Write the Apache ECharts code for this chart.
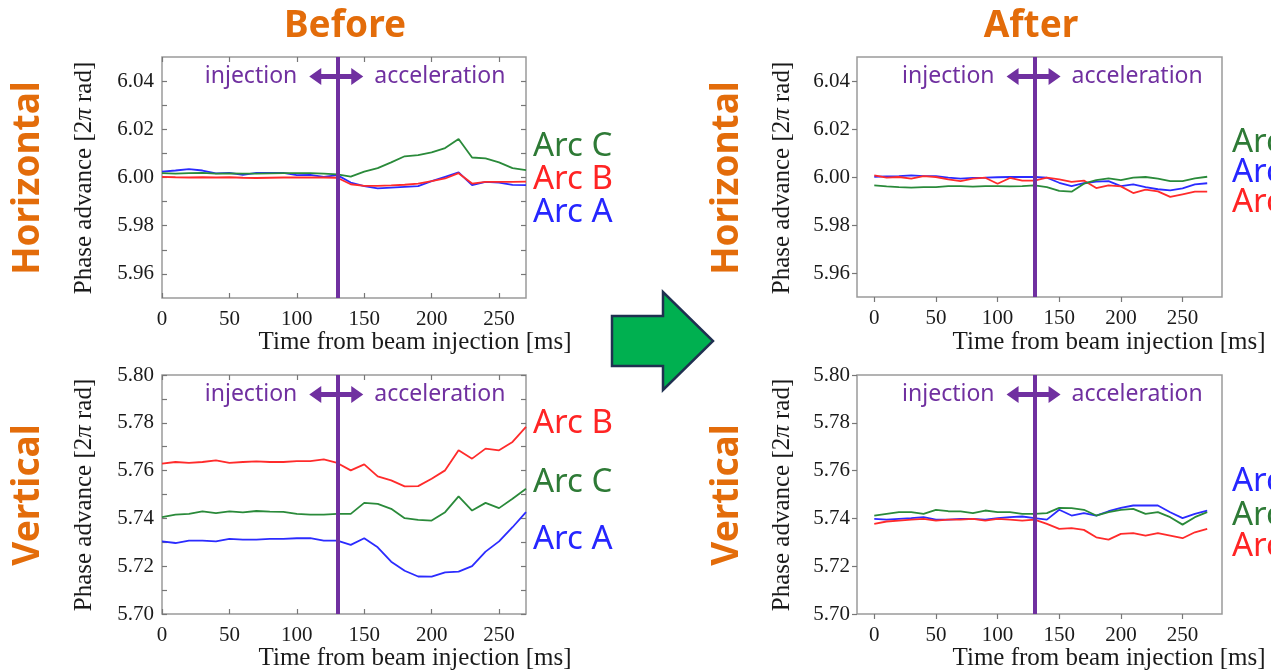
<!DOCTYPE html>
<html>
<head>
<meta charset="utf-8">
<script src="https://cdn.jsdelivr.net/npm/echarts@6/dist/echarts.min.js"></script>
<style>
  html, body { margin: 0; padding: 0; background: #ffffff; }
  #chart { width: 1271px; height: 671px; }
</style>
</head>
<body>
<div id="chart"></div>
<script>
// Sampling times of the phase advance measurement [ms]
const timeMs = [0, 10, 20, 30, 40, 50, 60, 70, 80, 90, 100, 110, 120, 130,
                140, 150, 160, 170, 180, 190, 200, 210, 220, 230, 240, 250, 260, 270];
const injectionEndMs = 130;

// Horizontal phase advance before correction [2π rad]
const hBeforeArcA = [6.0024, 6.0029, 6.0035, 6.0029, 6.0017, 6.0019, 6.0011, 6.0019, 6.0019, 6.0019,
                     6.0010, 6.0011, 6.0003, 6.0010, 5.9979, 5.9964, 5.9955, 5.9958, 5.9961, 5.9964,
                     5.9985, 6.0003, 6.0021, 5.9968, 5.9982, 5.9979, 5.9969, 5.9968];
const hBeforeArcB = [6.0003, 6.0001, 6.0000, 6.0001, 6.0000, 6.0001, 5.9999, 5.9998, 5.9999, 6.0000,
                     6.0000, 6.0000, 6.0000, 5.9999, 5.9972, 5.9965, 5.9965, 5.9967, 5.9970, 5.9975,
                     5.9985, 5.9996, 6.0018, 5.9975, 5.9982, 5.9982, 5.9982, 5.9983];
const hBeforeArcC = [6.0018, 6.0016, 6.0018, 6.0019, 6.0016, 6.0017, 6.0016, 6.0016, 6.0017, 6.0018,
                     6.0018, 6.0018, 6.0016, 6.0013, 6.0004, 6.0024, 6.0039, 6.0063, 6.0088, 6.0093,
                     6.0104, 6.0122, 6.0160, 6.0083, 6.0079, 6.0063, 6.0039, 6.0031];

// Vertical phase advance before correction [2π rad]
const vBeforeArcA = [5.7304, 5.7297, 5.7307, 5.7307, 5.7304, 5.7314, 5.7311, 5.7311, 5.7314, 5.7314,
                     5.7317, 5.7317, 5.7307, 5.7307, 5.7289, 5.7317, 5.7279, 5.7219, 5.7181, 5.7157,
                     5.7156, 5.7174, 5.7177, 5.7200, 5.7261, 5.7304, 5.7363, 5.7426];
const vBeforeArcB = [5.7629, 5.7636, 5.7632, 5.7636, 5.7643, 5.7632, 5.7636, 5.7639, 5.7636, 5.7636,
                     5.7640, 5.7640, 5.7647, 5.7632, 5.7601, 5.7626, 5.7576, 5.7559, 5.7534, 5.7535,
                     5.7566, 5.7601, 5.7685, 5.7650, 5.7692, 5.7685, 5.7720, 5.7783];
const vBeforeArcC = [5.7405, 5.7416, 5.7419, 5.7429, 5.7422, 5.7429, 5.7425, 5.7431, 5.7428, 5.7427,
                     5.7419, 5.7416, 5.7416, 5.7419, 5.7419, 5.7465, 5.7461, 5.7440, 5.7401, 5.7394,
                     5.7391, 5.7426, 5.7492, 5.7433, 5.7465, 5.7443, 5.7482, 5.7524];

// Horizontal phase advance after correction [2π rad]
const hAfterArcA = [6.0001, 6.0003, 6.0004, 6.0007, 6.0004, 6.0004, 5.9997, 5.9993, 5.9996, 5.9997,
                    5.9999, 6.0000, 6.0000, 6.0000, 5.9997, 5.9976, 5.9962, 5.9974, 5.9981, 5.9983,
                    5.9962, 5.9969, 5.9958, 5.9949, 5.9944, 5.9953, 5.9969, 5.9974];
const hAfterArcB = [6.0007, 5.9997, 6.0000, 5.9993, 6.0004, 6.0000, 5.9990, 5.9983, 5.9993, 5.9997,
                    5.9972, 5.9996, 5.9985, 5.9985, 5.9997, 5.9990, 5.9980, 5.9985, 5.9954, 5.9965,
                    5.9961, 5.9933, 5.9947, 5.9940, 5.9917, 5.9928, 5.9939, 5.9939];
const hAfterArcC = [5.9965, 5.9961, 5.9958, 5.9956, 5.9958, 5.9958, 5.9962, 5.9962, 5.9960, 5.9962,
                    5.9962, 5.9961, 5.9962, 5.9965, 5.9958, 5.9942, 5.9939, 5.9972, 5.9987, 5.9994,
                    5.9987, 5.9997, 6.0000, 5.9993, 5.9983, 5.9983, 5.9994, 6.0001];

// Vertical phase advance after correction [2π rad]
const vAfterArcA = [5.7398, 5.7395, 5.7398, 5.7401, 5.7405, 5.7395, 5.7395, 5.7398, 5.7398, 5.7395,
                    5.7401, 5.7405, 5.7408, 5.7401, 5.7395, 5.7436, 5.7412, 5.7422, 5.7412, 5.7430,
                    5.7444, 5.7454, 5.7454, 5.7454, 5.7426, 5.7401, 5.7419, 5.7433];
const vAfterArcB = [5.7377, 5.7387, 5.7391, 5.7395, 5.7398, 5.7391, 5.7395, 5.7395, 5.7398, 5.7391,
                    5.7398, 5.7395, 5.7391, 5.7395, 5.7377, 5.7356, 5.7359, 5.7352, 5.7321, 5.7311,
                    5.7335, 5.7338, 5.7328, 5.7338, 5.7328, 5.7317, 5.7342, 5.7356];
const vAfterArcC = [5.7412, 5.7419, 5.7426, 5.7426, 5.7419, 5.7436, 5.7430, 5.7429, 5.7422, 5.7433,
                    5.7426, 5.7426, 5.7419, 5.7419, 5.7422, 5.7444, 5.7443, 5.7436, 5.7412, 5.7426,
                    5.7436, 5.7440, 5.7419, 5.7426, 5.7405, 5.7374, 5.7405, 5.7426];

// Tick labels
const xTickLabels = [0, 50, 100, 150, 200, 250];
const yTickLabelsH = [5.96, 5.98, 6.00, 6.02, 6.04];
const yTickLabelsV = [5.70, 5.72, 5.74, 5.76, 5.78, 5.80];

// Texts
const arcNames = ['Arc A', 'Arc B', 'Arc C'];
const panelTitles = ['Before', 'After'];
const planeNames = ['Horizontal', 'Vertical'];
const xAxisTitle = 'Time from beam injection [ms]';
const yAxisTitle = 'Phase advance [2{i|π} rad]';
const phaseWords = ['injection', 'acceleration'];

// Styling
const arcColors = { 'Arc A': '#2b2bff', 'Arc B': '#ff2b2b', 'Arc C': '#2a8a3a' };
const arcTextColors = { 'Arc A': '#2626ff', 'Arc B': '#ff2424', 'Arc C': '#2e7a36' };
const orange = '#e36c0a';
const purple = '#7030a0';
const frameColor = '#9a9a9a';
const serif = '"Liberation Serif", "DejaVu Serif", serif';
const sans = '"Noto Sans", "Open Sans", sans-serif';

function withMidTicks(labels) {
  const out = labels.slice();
  for (let i = 0; i < labels.length - 1; i++) out.push((labels[i] + labels[i + 1]) / 2);
  return out;
}

const panels = [
  { grid: { left: 162, top: 57, width: 364, height: 241 }, inner: true,
    xMin: 0, xMax: 270, yMin: 5.95, yMax: 6.05, yLabels: yTickLabelsH,
    data: { 'Arc A': hBeforeArcA, 'Arc B': hBeforeArcB, 'Arc C': hBeforeArcC } },
  { grid: { left: 162, top: 375, width: 364, height: 239 }, inner: true,
    xMin: 0, xMax: 270, yMin: 5.70, yMax: 5.80, yLabels: yTickLabelsV,
    data: { 'Arc A': vBeforeArcA, 'Arc B': vBeforeArcB, 'Arc C': vBeforeArcC } },
  { grid: { left: 857, top: 57, width: 365, height: 240 }, inner: false,
    xMin: -14, xMax: 282, yMin: 5.95, yMax: 6.05, yLabels: yTickLabelsH,
    data: { 'Arc A': hAfterArcA, 'Arc B': hAfterArcB, 'Arc C': hAfterArcC } },
  { grid: { left: 857, top: 375, width: 365, height: 239 }, inner: false,
    xMin: -14, xMax: 282, yMin: 5.70, yMax: 5.80, yLabels: yTickLabelsV,
    data: { 'Arc A': vAfterArcA, 'Arc B': vAfterArcB, 'Arc C': vAfterArcC } }
];

const grids = [], xAxes = [], yAxes = [], series = [];

panels.forEach((p, g) => {
  grids.push(Object.assign({ show: true, borderColor: frameColor, borderWidth: 1.5,
                             backgroundColor: 'transparent' }, p.grid));
  const tickStyle = { lineStyle: { color: '#777', width: 1.2 } };
  const yTicks = p.inner ? withMidTicks(p.yLabels) : p.yLabels;
  const labelFont = { fontFamily: serif, fontSize: 21, color: '#1a1a1a' };
  const noLine = { show: false, onZero: false };

  // bottom x axis
  xAxes.push({
    type: 'value', gridIndex: g, position: 'bottom', min: p.xMin, max: p.xMax,
    axisLine: noLine,
    axisTick: Object.assign({ show: true, inside: p.inner, length: 5, customValues: xTickLabels }, tickStyle),
    axisLabel: Object.assign({ show: true, margin: 11, customValues: xTickLabels }, labelFont),
    splitLine: { show: false }
  });
  // top x axis (mirrored ticks on the framed panels)
  xAxes.push({
    type: 'value', gridIndex: g, position: 'top', min: p.xMin, max: p.xMax, show: p.inner,
    axisLine: noLine,
    axisTick: Object.assign({ show: true, inside: true, length: 5, customValues: xTickLabels }, tickStyle),
    axisLabel: { show: false },
    splitLine: { show: false }
  });
  // left y axis
  yAxes.push({
    type: 'value', gridIndex: g, position: 'left', min: p.yMin, max: p.yMax,
    axisLine: noLine,
    axisTick: Object.assign({ show: true, inside: p.inner, length: 5, customValues: yTicks }, tickStyle),
    axisLabel: Object.assign({ show: true, margin: p.inner ? 8 : 7, customValues: p.yLabels,
                               formatter: v => v.toFixed(2) }, labelFont),
    splitLine: { show: false }
  });
  // right y axis (mirrored ticks on the framed panels)
  yAxes.push({
    type: 'value', gridIndex: g, position: 'right', min: p.yMin, max: p.yMax, show: p.inner,
    axisLine: noLine,
    axisTick: Object.assign({ show: true, inside: true, length: 5, customValues: yTicks }, tickStyle),
    axisLabel: { show: false },
    splitLine: { show: false }
  });

  arcNames.forEach((name, k) => {
    const s = {
      type: 'line', name: name + ' ' + g,
      xAxisIndex: 2 * g, yAxisIndex: 2 * g,
      data: timeMs.map((t, i) => [t, p.data[name][i]]),
      showSymbol: false, symbol: 'none', smooth: false,
      lineStyle: { color: arcColors[name], width: 1.8 },
      itemStyle: { color: arcColors[name] },
      silent: true, animation: false
    };
    if (k === arcNames.length - 1) {
      s.markLine = {
        silent: true, symbol: 'none', animation: false,
        label: { show: false },
        lineStyle: { color: purple, width: 4, type: 'solid' },
        data: [{ xAxis: injectionEndMs }]
      };
    }
    series.push(s);
  });
});

// Static decoration: panel titles, plane names, axis titles, arc labels, arrow
const staticEls = [];

function addText(x, y, text, opts) {
  staticEls.push(Object.assign({
    type: 'text', x: x, y: y, z: 100, silent: true,
    style: Object.assign({ text: text, align: 'center', verticalAlign: 'middle' }, opts.style)
  }, opts.rotation ? { rotation: opts.rotation } : {}));
}

addText(345, 26, panelTitles[0], { style: { fill: orange, fontFamily: sans, fontSize: 37, fontWeight: 'bold' } });
addText(1031, 26, panelTitles[1], { style: { fill: orange, fontFamily: sans, fontSize: 37, fontWeight: 'bold' } });

[[28, 178], [727, 178]].forEach(([x, y]) =>
  addText(x, y, planeNames[0], { rotation: Math.PI / 2,
    style: { fill: orange, fontFamily: sans, fontSize: 37, fontWeight: 'bold' } }));
[[28, 495], [727, 495]].forEach(([x, y]) =>
  addText(x, y, planeNames[1], { rotation: Math.PI / 2,
    style: { fill: orange, fontFamily: sans, fontSize: 37, fontWeight: 'bold' } }));

[[415, 342], [1109, 342], [415, 658], [1109, 658]].forEach(([x, y]) =>
  addText(x, y, xAxisTitle, { style: { fill: '#1a1a1a', fontFamily: serif, fontSize: 25 } }));

[[84, 178], [782, 178], [84, 495], [782, 495]].forEach(([x, y]) =>
  addText(x, y, yAxisTitle, { rotation: Math.PI / 2,
    style: { fill: '#1a1a1a', fontFamily: serif, fontSize: 25,
             rich: { i: { fontStyle: 'italic', fontFamily: serif, fontSize: 25, fill: '#1a1a1a' } } } }));

// Arc labels placed to the right of each panel
const arcLabelLayout = [
  { x: 533, items: [['Arc C', 147], ['Arc B', 180], ['Arc A', 213]] },
  { x: 533, items: [['Arc B', 424], ['Arc C', 483], ['Arc A', 540]] },
  { x: 1232, items: [['Arc C', 143], ['Arc A', 173], ['Arc B', 203]] },
  { x: 1232, items: [['Arc A', 482], ['Arc C', 516], ['Arc B', 547]] }
];
arcLabelLayout.forEach(col => col.items.forEach(([name, y]) => {
  staticEls.push({
    type: 'text', x: col.x, y: y, z: 100, silent: true,
    style: { text: name, fill: arcTextColors[name], fontFamily: sans, fontSize: 33,
             align: 'left', verticalAlign: 'middle' }
  });
}));

// Green arrow between the two columns
staticEls.push({
  type: 'polygon', z: 100, silent: true,
  shape: { points: [[612, 316], [663, 316], [663, 292], [713, 341], [663, 390], [663, 366], [612, 366]] },
  style: { fill: '#00b050', stroke: '#1f3050', lineWidth: 2.5 }
});

const chart = echarts.init(document.getElementById('chart'), null, { renderer: 'canvas' });
chart.setOption({
  backgroundColor: '#ffffff',
  animation: false,
  grid: grids,
  xAxis: xAxes,
  yAxis: yAxes,
  series: series,
  graphic: [{ elements: staticEls }]
});

// "injection <-> acceleration" annotation, anchored on the injection end line
const annoEls = [];
panels.forEach((p, g) => {
  const pt = chart.convertToPixel({ xAxisIndex: 2 * g, yAxisIndex: 2 * g }, [injectionEndMs, p.yMax]);
  const xc = pt[0], yc = pt[1] + 19.5;
  annoEls.push({
    type: 'text', x: xc - 40, y: yc, z: 110, silent: true,
    style: { text: phaseWords[0], fill: purple, fontFamily: sans, fontSize: 23,
             align: 'right', verticalAlign: 'middle' }
  });
  annoEls.push({
    type: 'text', x: xc + 37, y: yc, z: 110, silent: true,
    style: { text: phaseWords[1], fill: purple, fontFamily: sans, fontSize: 23,
             align: 'left', verticalAlign: 'middle' }
  });
  const xl = xc - 28, xr = xc + 26, hl = 12, hh = 8.5, sh = 2.5;
  annoEls.push({
    type: 'polygon', z: 110, silent: true,
    shape: { points: [
      [xl, yc], [xl + hl, yc - hh], [xl + hl, yc - sh], [xr - hl, yc - sh], [xr - hl, yc - hh],
      [xr, yc], [xr - hl, yc + hh], [xr - hl, yc + sh], [xl + hl, yc + sh], [xl + hl, yc + hh]
    ] },
    style: { fill: purple }
  });
});

chart.setOption({ graphic: [{ elements: staticEls.concat(annoEls) }] });
</script>
</body>
</html>
